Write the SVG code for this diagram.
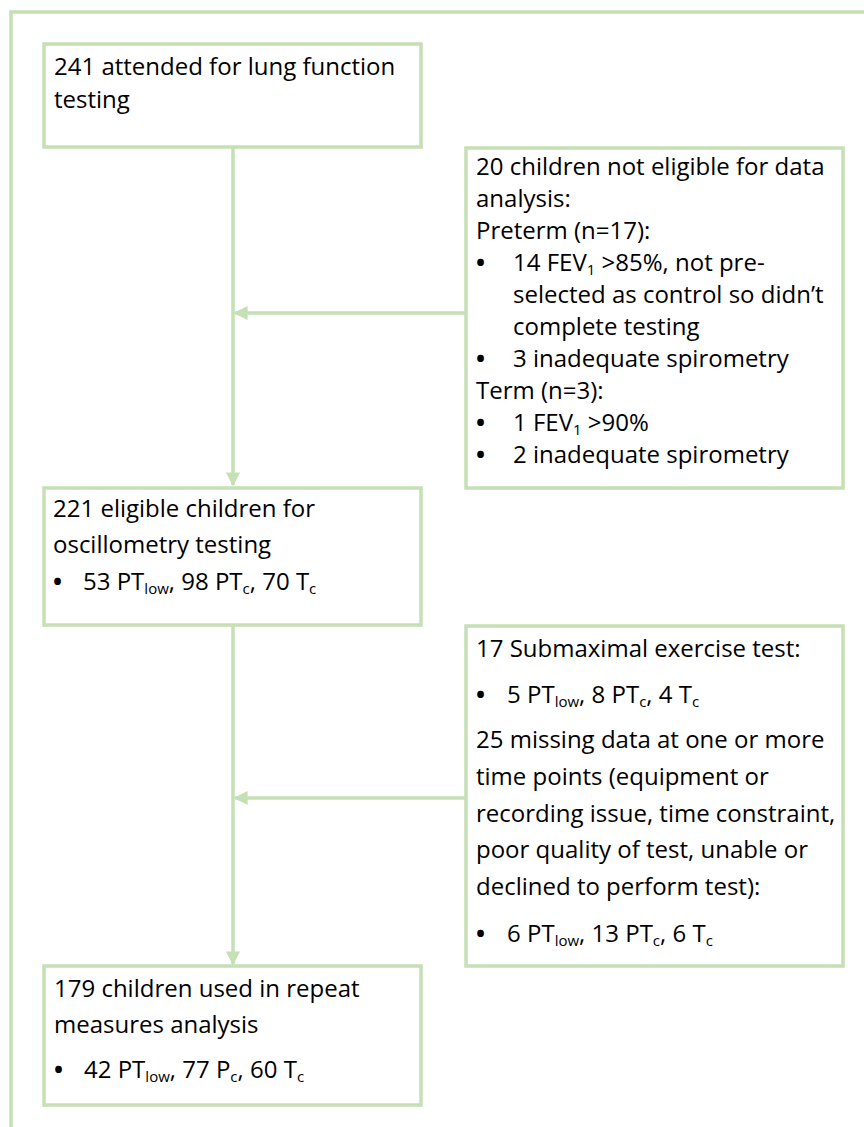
<svg xmlns="http://www.w3.org/2000/svg" width="864" height="1127" viewBox="0 0 864 1127">
<defs>
<style>
.box{fill:#ffffff;stroke:#c5e0b4;stroke-width:3.5}
.ln{fill:none;stroke:#c5e0b4;stroke-width:3.5}
.t{font-family:"Open Sans",Lato,"Liberation Sans",sans-serif;font-size:24px;fill:#000000}
.b{font-weight:bold}
.s{font-size:15px}
</style>
<marker id="ah" viewBox="0 0 10 10" refX="9" refY="5" markerWidth="4" markerHeight="4" orient="auto" markerUnits="strokeWidth">
<path d="M0,0 L10,5 L0,10 z" fill="#c5e0b4"/>
</marker>
</defs>
<rect width="864" height="1127" fill="#ffffff"/>
<g id="frame">
<path class="ln" d="M11,1127 L11,12 L864,12"/>
</g>
<g id="connectors">
<path class="ln" d="M233,147 L233,485" marker-end="url(#ah)"/>
<path class="ln" d="M466,313 L235,313" marker-end="url(#ah)"/>
<path class="ln" d="M233,625 L233,964" marker-end="url(#ah)"/>
<path class="ln" d="M466,798 L235,798" marker-end="url(#ah)"/>
</g>
<g id="n1">
<rect class="box" x="44" y="44" width="377" height="103"/>
<text class="t" x="54" y="75">241 attended for lung function</text>
<text class="t" x="54" y="108">testing</text>
</g>
<g id="n2">
<rect class="box" x="466" y="148" width="377" height="340"/>
<text class="t" x="476" y="175">20 children not eligible for data</text>
<text class="t" x="476" y="207">analysis:</text>
<text class="t" x="476" y="239">Preterm (n=17):</text>
<text class="t" x="476" y="271"><tspan class="b">•</tspan><tspan x="513">14 FEV</tspan><tspan class="s" dy="4">1</tspan><tspan dy="-4"> &gt;85%, not pre-</tspan></text>
<text class="t" x="513" y="303">selected as control so didn’t</text>
<text class="t" x="513" y="335">complete testing</text>
<text class="t" x="476" y="367"><tspan class="b">•</tspan><tspan x="513">3 inadequate spirometry</tspan></text>
<text class="t" x="476" y="399">Term (n=3):</text>
<text class="t" x="476" y="431"><tspan class="b">•</tspan><tspan x="513">1 FEV</tspan><tspan class="s" dy="4">1</tspan><tspan dy="-4"> &gt;90%</tspan></text>
<text class="t" x="476" y="463"><tspan class="b">•</tspan><tspan x="513">2 inadequate spirometry</tspan></text>
</g>
<g id="n3">
<rect class="box" x="44" y="488" width="377" height="137"/>
<text class="t" x="53" y="517">221 eligible children for</text>
<text class="t" x="53" y="553">oscillometry testing</text>
<text class="t" x="53" y="590"><tspan class="b">•</tspan><tspan x="83">53 PT</tspan><tspan class="s" dy="4">low</tspan><tspan dy="-4">, 98 PT</tspan><tspan class="s" dy="4">c</tspan><tspan dy="-4">, 70 T</tspan><tspan class="s" dy="4">c</tspan></text>
</g>
<g id="n4">
<rect class="box" x="466" y="626" width="377" height="340"/>
<text class="t" x="476" y="657">17 Submaximal exercise test:</text>
<text class="t" x="476" y="703"><tspan class="b">•</tspan><tspan x="507">5 PT</tspan><tspan class="s" dy="4">low</tspan><tspan dy="-4">, 8 PT</tspan><tspan class="s" dy="4">c</tspan><tspan dy="-4">, 4 T</tspan><tspan class="s" dy="4">c</tspan></text>
<text class="t" x="476" y="748">25 missing data at one or more</text>
<text class="t" x="476" y="785">time points (equipment or</text>
<text class="t" x="476" y="822">recording issue, time constraint,</text>
<text class="t" x="476" y="858">poor quality of test, unable or</text>
<text class="t" x="476" y="895">declined to perform test):</text>
<text class="t" x="476" y="942"><tspan class="b">•</tspan><tspan x="507">6 PT</tspan><tspan class="s" dy="4">low</tspan><tspan dy="-4">, 13 PT</tspan><tspan class="s" dy="4">c</tspan><tspan dy="-4">, 6 T</tspan><tspan class="s" dy="4">c</tspan></text>
</g>
<g id="n5">
<rect class="box" x="44" y="966" width="377" height="139"/>
<text class="t" x="54" y="997">179 children used in repeat</text>
<text class="t" x="54" y="1033">measures analysis</text>
<text class="t" x="54" y="1078"><tspan class="b">•</tspan><tspan x="84">42 PT</tspan><tspan class="s" dy="4">low</tspan><tspan dy="-4">, 77 P</tspan><tspan class="s" dy="4">c</tspan><tspan dy="-4">, 60 T</tspan><tspan class="s" dy="4">c</tspan></text>
</g>
</svg>
